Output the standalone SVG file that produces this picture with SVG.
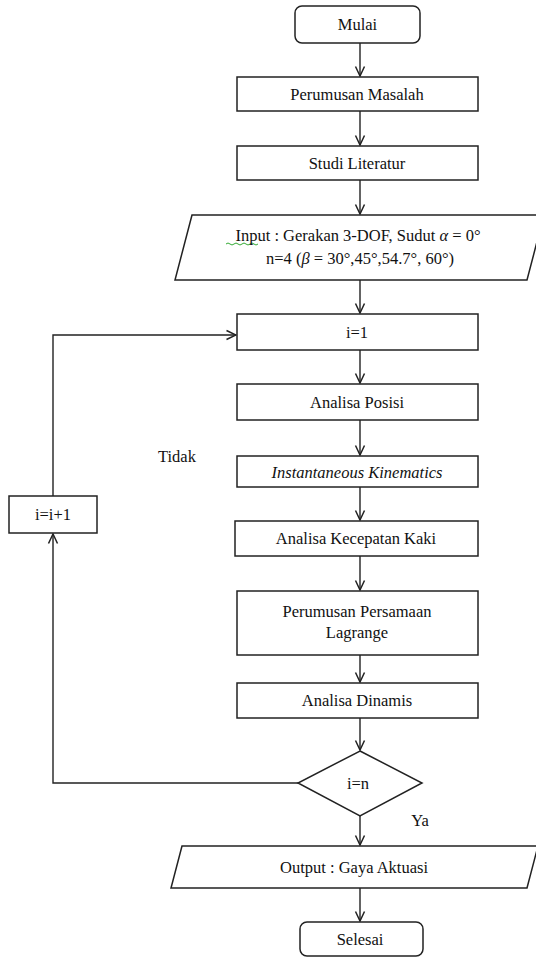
<svg xmlns="http://www.w3.org/2000/svg" width="536" height="958" viewBox="0 0 536 958">
<style>
.box{fill:#fff;stroke:#222;stroke-width:1.5}
.t{font-family:'Liberation Serif','DejaVu Serif',serif;font-size:16.5px;fill:#111;text-anchor:middle;dominant-baseline:central}
.i{font-style:italic}
.ln{fill:none;stroke:#222;stroke-width:1.4}
</style>
<defs>
<marker id="arr" markerUnits="userSpaceOnUse" markerWidth="12" markerHeight="12" viewBox="-11 -6 12 12" refX="0" refY="0" orient="auto">
<path d="M-9.5,-4.5 L0,0 L-9.5,4.5" fill="none" stroke="#222" stroke-width="1.5"/>
</marker>
</defs>
<rect width="536" height="958" fill="#fff"/>
<g id="connectors">
<line class="ln" x1="360" y1="43" x2="360" y2="76" marker-end="url(#arr)"/>
<line class="ln" x1="360" y1="111" x2="360" y2="145" marker-end="url(#arr)"/>
<line class="ln" x1="360" y1="180" x2="360" y2="214" marker-end="url(#arr)"/>
<line class="ln" x1="360" y1="280" x2="360" y2="313" marker-end="url(#arr)"/>
<line class="ln" x1="360" y1="350" x2="360" y2="383" marker-end="url(#arr)"/>
<line class="ln" x1="360" y1="420" x2="360" y2="455" marker-end="url(#arr)"/>
<line class="ln" x1="360" y1="487" x2="360" y2="520" marker-end="url(#arr)"/>
<line class="ln" x1="360" y1="556" x2="360" y2="590" marker-end="url(#arr)"/>
<line class="ln" x1="360" y1="655" x2="360" y2="682" marker-end="url(#arr)"/>
<line class="ln" x1="360" y1="718" x2="360" y2="750" marker-end="url(#arr)"/>
<line class="ln" x1="360" y1="816" x2="360" y2="845" marker-end="url(#arr)"/>
<line class="ln" x1="360" y1="888" x2="360" y2="921" marker-end="url(#arr)"/>
<polyline class="ln" points="298,783 53,783 53,534" marker-end="url(#arr)"/>
<polyline class="ln" points="53,496 53,335 236,335" marker-end="url(#arr)"/>
</g>
<g id="mulai"><rect class="box" x="295" y="6" width="125" height="37" rx="7"/><text class="t" x="357.5" y="24">Mulai</text></g>
<g id="perumusan-masalah"><rect class="box" x="237" y="77" width="241" height="34"/><text class="t" x="357" y="94">Perumusan Masalah</text></g>
<g id="studi-literatur"><rect class="box" x="237" y="146" width="241" height="34"/><text class="t" x="357" y="163">Studi Literatur</text></g>
<g id="input"><polygon class="box" points="192,215 544,215 527,280 175,280"/>
<path d="M226,244 q2,-2 4,0 t4,0 t4,0 t4,0 t4,0 t4,0 t4,0 t4,0" fill="none" stroke="#3a3" stroke-width="1"/>
<text class="t" x="358" y="235">Input : Gerakan 3-DOF, Sudut <tspan class="i">α</tspan> = 0°</text>
<text class="t" x="360" y="258">n=4 (<tspan class="i">β</tspan> = 30°,45°,54.7°, 60°)</text></g>
<g id="i1"><rect class="box" x="237" y="314" width="241" height="36"/><text class="t" x="357" y="332">i=1</text></g>
<g id="analisa-posisi"><rect class="box" x="237" y="384" width="241" height="36"/><text class="t" x="357" y="402">Analisa Posisi</text></g>
<g id="instantaneous"><rect class="box" x="237" y="456" width="241" height="31"/><text class="t i" x="357" y="472">Instantaneous Kinematics</text></g>
<g id="tidak-label"><text class="t" x="177" y="456">Tidak</text></g>
<g id="increment"><rect class="box" x="9" y="496" width="88" height="37"/><text class="t" x="53" y="514">i=i+1</text></g>
<g id="analisa-kecepatan"><rect class="box" x="235" y="521" width="243" height="35"/><text class="t" x="356" y="538">Analisa Kecepatan Kaki</text></g>
<g id="lagrange"><rect class="box" x="237" y="591" width="241" height="64"/><text class="t" x="357" y="611">Perumusan Persamaan</text><text class="t" x="357" y="632">Lagrange</text></g>
<g id="analisa-dinamis"><rect class="box" x="237" y="683" width="241" height="35"/><text class="t" x="357" y="700">Analisa Dinamis</text></g>
<g id="decision"><polygon class="box" points="360,751 422,783 360,816 298,783"/><text class="t" x="358" y="783">i=n</text></g>
<g id="ya-label"><text class="t" x="420" y="820">Ya</text></g>
<g id="output"><polygon class="box" points="182,846 538,846 527,888 171,888"/><text class="t" x="354" y="867">Output : Gaya Aktuasi</text></g>
<g id="selesai"><rect class="box" x="300" y="922" width="123" height="34" rx="7"/><text class="t" x="360" y="939">Selesai</text></g>
</svg>
